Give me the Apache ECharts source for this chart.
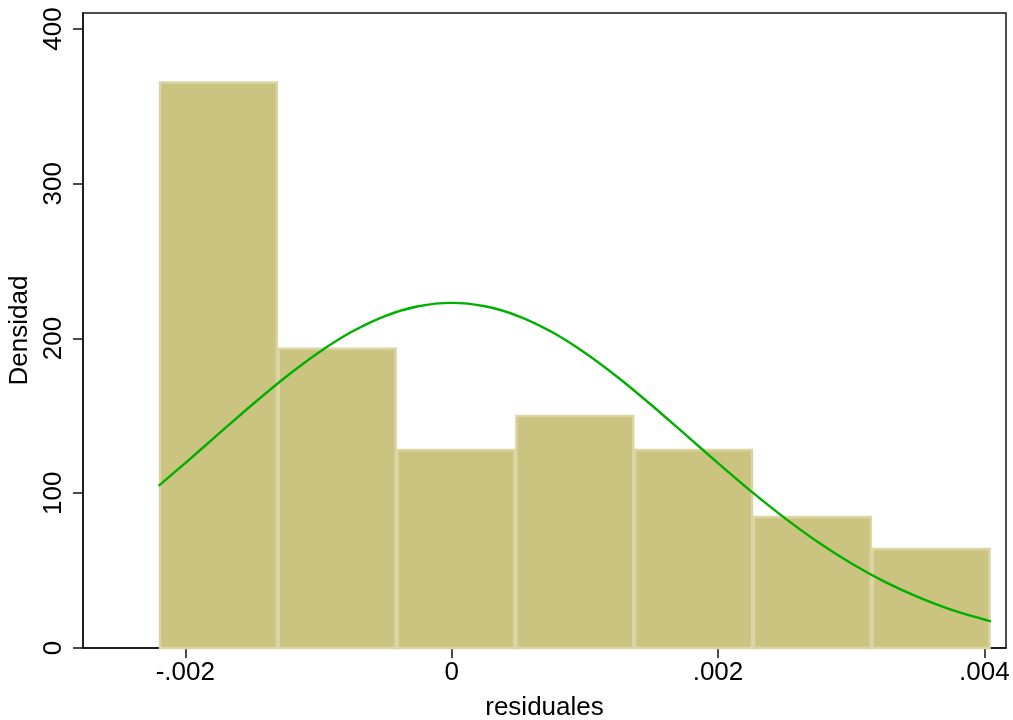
<!DOCTYPE html>
<html>
<head>
<meta charset="utf-8">
<script src="https://cdn.jsdelivr.net/npm/echarts@6/dist/echarts.min.js"></script>
<style>html,body{margin:0;padding:0;background:#fff}#c{width:1013px;height:720px}</style>
</head>
<body>
<div id="c"></div>
<script>
// Histogram bin edges (residuales)
const binEdges = [-0.002197, -0.001305, -0.000413, 0.000479, 0.001371, 0.002263, 0.003155, 0.004047];
// Bar heights (Densidad)
const binDensity = [366, 194, 128.6, 150.6, 128.6, 85.3, 64.6];
// Normal density curve
const curveX = [-0.0022, -0.002, -0.00175, -0.0015, -0.00125, -0.001, -0.00075, -0.0005, -0.00025, 0,
  0.00025, 0.0005, 0.00075, 0.001, 0.00125, 0.0015, 0.00175, 0.002, 0.00225, 0.0025,
  0.00275, 0.003, 0.00325, 0.0035, 0.00375, 0.00405];
const curveY = [104.8, 119.5, 138.3, 157, 174.8, 190.8, 204.3, 214.5, 220.8, 223,
  220.8, 214.5, 204.3, 190.8, 174.8, 157, 138.3, 119.5, 101.2, 84.1,
  68.5, 54.8, 42.9, 33.0, 24.8, 17.2];
const xTicks = [-0.002, 0, 0.002, 0.004];
const yTicks = [0, 100, 200, 300, 400];

const barData = binDensity.map((h, i) => [binEdges[i], binEdges[i + 1], h]);
const lineData = curveX.map((x, i) => [x, curveY[i]]);

const fmtX = v => {
  if (Math.abs(v) < 1e-12) return '0';
  const s = v.toFixed(3);
  return s.replace(/^(-?)0\./, '$1.');
};

const chart = echarts.init(document.getElementById('c'), null, {renderer: 'canvas'});
const font = 'Liberation Sans, Arial, Helvetica, sans-serif';
chart.setOption({
  animation: false,
  backgroundColor: '#fff',
  grid: {left: 83, right: 7, top: 13, bottom: 72, containLabel: false, outerBoundsMode: 'none',
    show: true, borderColor: '#111', borderWidth: 1.5, backgroundColor: 'transparent'},
  xAxis: {
    type: 'value', min: -0.002768, max: 0.004163,
    name: 'residuales', nameLocation: 'middle', nameGap: 47,
    nameTextStyle: {fontFamily: font, fontSize: 26, color: '#000'},
    axisLine: {show: true, onZero: false, lineStyle: {color: '#111', width: 1.5}},
    axisTick: {show: true, length: 10, customValues: xTicks, lineStyle: {color: '#111', width: 1.5}},
    axisLabel: {customValues: xTicks, formatter: fmtX, margin: 12, fontFamily: font, fontSize: 26, color: '#000'},
    splitLine: {show: false}
  },
  yAxis: {
    type: 'value', min: 0, max: 410.3,
    name: 'Densidad', nameLocation: 'middle', nameGap: 46, nameRotate: 90,
    nameTextStyle: {fontFamily: font, fontSize: 26, color: '#000'},
    axisLine: {show: true, onZero: false, lineStyle: {color: '#111', width: 1.5}},
    axisTick: {show: true, length: 10, customValues: yTicks, lineStyle: {color: '#111', width: 1.5}},
    axisLabel: {customValues: yTicks, rotate: 90, margin: 16, fontFamily: font, fontSize: 26, color: '#000'},
    splitLine: {show: false}
  },
  series: [
    {
      type: 'custom',
      data: barData,
      encode: {x: [0, 1], y: 2},
      renderItem: function (params, api) {
        const p0 = api.coord([api.value(0), api.value(2)]);
        const p1 = api.coord([api.value(1), 0]);
        return {
          type: 'rect',
          shape: {x: p0[0] + 1, y: p0[1] + 1, width: p1[0] - p0[0] - 2, height: p1[1] - p0[1] - 1},
          style: {fill: '#CBC380', stroke: '#DAD5A3', lineWidth: 2.5}
        };
      },
      z: 2
    },
    {
      type: 'line',
      data: lineData,
      smooth: 0.3,
      showSymbol: false,
      lineStyle: {color: '#00B000', width: 2.4},
      z: 3
    }
  ]
});
</script>
</body>
</html>
